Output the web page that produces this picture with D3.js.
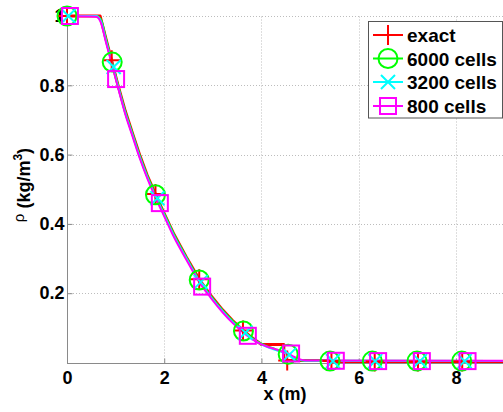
<!DOCTYPE html>
<html>
<head>
<meta charset="utf-8">
<script src="https://cdn.jsdelivr.net/npm/d3@7"></script>
<style>
  body { margin: 0; background: #fff; }
  svg { display: block; font-family: "Liberation Sans", Arial, sans-serif; }
</style>
</head>
<body>
<svg id="chart" width="503" height="412"></svg>
<script>
// exact solution (rarefaction, plateau, contact)
const exactX = [0, 0.68, 0.8, 0.93, 1.05, 1.2, 1.35, 1.5, 1.65, 1.82, 2.0, 2.2, 2.45, 2.72, 2.95, 3.2, 3.4, 3.63, 3.8, 4.0, 4.46, 4.46, 5.4, 5.4, 9]
const exactY = [1, 1, 0.935, 0.865, 0.8, 0.725, 0.66, 0.597, 0.54, 0.485, 0.43, 0.37, 0.305, 0.24, 0.195, 0.152, 0.122, 0.092, 0.072, 0.052, 0.052, 0.006, 0.006, 0.003, 0.003]

// numerical solutions
const numX = [0, 0.6, 0.7, 0.8, 0.93, 1.05, 1.2, 1.35, 1.5, 1.65, 1.82, 2.0, 2.2, 2.45, 2.72, 2.95, 3.2, 3.4, 3.63, 3.8, 3.95, 4.1, 4.3, 4.45, 4.55, 4.65, 4.75, 4.9, 9]
const cells6000Y = [1, 1, 0.99, 0.935, 0.866, 0.8, 0.724, 0.66, 0.596, 0.54, 0.484, 0.43, 0.37, 0.305, 0.238, 0.194, 0.151, 0.121, 0.091, 0.072, 0.058, 0.048, 0.038, 0.03, 0.024, 0.014, 0.008, 0.005, 0.004]
const cells3200Y = [1, 1, 0.985, 0.93, 0.862, 0.797, 0.72, 0.656, 0.592, 0.536, 0.48, 0.426, 0.366, 0.302, 0.236, 0.191, 0.148, 0.118, 0.088, 0.069, 0.056, 0.046, 0.036, 0.029, 0.023, 0.015, 0.009, 0.005, 0.004]
const cells800Y = [1, 0.998, 0.98, 0.925, 0.858, 0.793, 0.716, 0.652, 0.588, 0.532, 0.476, 0.422, 0.362, 0.298, 0.232, 0.188, 0.145, 0.115, 0.086, 0.068, 0.056, 0.047, 0.038, 0.031, 0.026, 0.018, 0.011, 0.006, 0.005]

// marker positions
const exactMX = [0, 0.92, 1.82, 2.72, 3.62, 4.53, 5.44, 6.33, 7.22, 8.13]
const exactMY = [1, 0.872, 0.486, 0.24, 0.092, 0.006, 0.004, 0.003, 0.003, 0.003]
const m6000X = [0, 0.93, 1.82, 2.72, 3.63, 4.55, 5.41, 6.28, 7.2, 8.12]
const m6000Y = [1, 0.867, 0.484, 0.238, 0.091, 0.024, 0.004, 0.004, 0.004, 0.004]
const m3200X = [0.03, 0.96, 1.86, 2.75, 3.67, 4.57, 5.47, 6.34, 7.26, 8.18]
const m3200Y = [1, 0.853, 0.474, 0.232, 0.086, 0.022, 0.004, 0.004, 0.004, 0.004]
const m800X = [0.06, 1.01, 1.91, 2.78, 3.72, 4.61, 5.53, 6.4, 7.3, 8.24]
const m800Y = [1, 0.818, 0.46, 0.219, 0.077, 0.026, 0.005, 0.004, 0.004, 0.004]

const xTicks = [0, 2, 4, 6, 8]
const yTicks = [0.2, 0.4, 0.6, 0.8, 1]
const labels = ["exact", "6000 cells", "3200 cells", "800 cells"]

const width = 503, height = 412
const margin = { top: 16, right: -1.5, bottom: 49.5, left: 67 }

const x = d3.scaleLinear().domain([0, 9]).range([margin.left, width - margin.right])
const y = d3.scaleLinear().domain([0, 1]).range([height - margin.bottom, margin.top])

const svg = d3.select("#chart")

// grid
svg.append("g")
    .selectAll("line.gx")
    .data(xTicks.filter(d => d > 0))
    .join("line")
    .attr("x1", d => Math.round(x(d)) + 0.5).attr("x2", d => Math.round(x(d)) + 0.5)
    .attr("y1", y(0)).attr("y2", y(1))
    .attr("stroke", "#bdbdbd").attr("stroke-dasharray", "1,2")
svg.append("g")
    .selectAll("line.gy")
    .data(yTicks)
    .join("line")
    .attr("x1", x(0)).attr("x2", width)
    .attr("y1", d => Math.round(y(d)) + 0.5).attr("y2", d => Math.round(y(d)) + 0.5)
    .attr("stroke", "#bdbdbd").attr("stroke-dasharray", "1,2")

// axes
let xAxis = g => g
    .attr("transform", `translate(0,${Math.round(y(0)) + 0.5})`)
    .call(d3.axisBottom(x).tickValues(xTicks).tickSize(-5).tickPadding(8).tickFormat(d3.format("d")))
    .call(g => g.select(".domain").attr("stroke", "#8a8a8a").attr("d", `M${x(0)},0H${width}`))
    .call(g => g.selectAll(".tick line").attr("stroke", "#8a8a8a"))
    .call(g => g.selectAll("text").attr("fill", "#000").attr("font-size", 18).attr("font-weight", "bold")
        .attr("font-family", "Liberation Sans, Arial, sans-serif"))

let yAxis = g => g
    .attr("transform", `translate(${Math.round(x(0)) + 0.5},0)`)
    .call(d3.axisLeft(y).tickValues(yTicks).tickSize(-5).tickPadding(3).tickFormat(d => d === 1 ? "1" : d3.format(".1f")(d)))
    .call(g => g.select(".domain").attr("stroke", "#8a8a8a").attr("d", `M0,${y(1)}V${y(0)}`))
    .call(g => g.selectAll(".tick line").attr("stroke", "#8a8a8a"))
    .call(g => g.selectAll("text").attr("fill", "#000").attr("font-size", 18).attr("font-weight", "bold")
        .attr("font-family", "Liberation Sans, Arial, sans-serif"))

svg.append("g").call(xAxis)
svg.append("g").call(yAxis)

// axis titles
svg.append("text")
    .attr("x", (x(0) + width) / 2).attr("y", 400)
    .attr("text-anchor", "middle")
    .attr("font-size", 18).attr("font-weight", "bold")
    .text("x (m)")

const yl = svg.append("text")
    .attr("transform", `translate(29.5,185) rotate(-90)`)
    .attr("text-anchor", "middle")
    .attr("font-size", 18).attr("font-weight", "bold")
yl.append("tspan").attr("font-weight", "normal").attr("font-size", 15).attr("dy", -6).text("ρ")
yl.append("tspan").attr("dy", 6).text(" (kg/m")
yl.append("tspan").attr("font-size", 12).attr("dy", -8).text("3")
yl.append("tspan").attr("dy", 8).text(")")

// series
const series = [
    { xs: exactX, ys: exactY, mx: exactMX, my: exactMY, color: "#ff0000", w: 3, marker: "plus", curve: d3.curveLinear },
    { xs: numX, ys: cells6000Y, mx: m6000X, my: m6000Y, color: "#00ff00", w: 2, marker: "circle", curve: d3.curveMonotoneX },
    { xs: numX, ys: cells3200Y, mx: m3200X, my: m3200Y, color: "#00ffff", w: 2, marker: "cross", curve: d3.curveMonotoneX },
    { xs: numX, ys: cells800Y, mx: m800X, my: m800Y, color: "#ff00ff", w: 2, marker: "square", curve: d3.curveMonotoneX }
]

function drawMarker(g, kind, cx, cy, color) {
    if (kind === "plus") {
        g.append("path").attr("d", `M${cx - 9},${cy}H${cx + 9}M${cx},${cy - 10}V${cy + 10}`)
            .attr("stroke", color).attr("stroke-width", 2).attr("fill", "none")
    } else if (kind === "circle") {
        g.append("circle").attr("cx", cx).attr("cy", cy).attr("r", 9.5)
            .attr("stroke", color).attr("stroke-width", 2).attr("fill", "none")
    } else if (kind === "cross") {
        const s = 7
        g.append("path").attr("d", `M${cx - s},${cy - s}L${cx + s},${cy + s}M${cx - s},${cy + s}L${cx + s},${cy - s}`)
            .attr("stroke", color).attr("stroke-width", 2).attr("fill", "none")
    } else {
        g.append("rect").attr("x", cx - 8).attr("y", cy - 8).attr("width", 16).attr("height", 16)
            .attr("stroke", color).attr("stroke-width", 2).attr("fill", "none")
    }
}

series.forEach(s => {
    const line = d3.line().curve(s.curve).x((d, i) => x(s.xs[i])).y(d => y(d))
    svg.append("path")
        .datum(s.ys)
        .attr("fill", "none")
        .attr("stroke", s.color)
        .attr("stroke-width", s.w)
        .attr("stroke-linejoin", "round")
        .attr("d", line)
})
series.forEach(s => {
    const g = svg.append("g")
    s.mx.forEach((v, i) => drawMarker(g, s.marker, x(v), y(s.my[i]), s.color))
})

// legend
const lg = svg.append("g")
lg.append("rect")
    .attr("x", 368.5).attr("y", 21.5).attr("width", 134).attr("height", 96.5)
    .attr("fill", "#fff").attr("stroke", "#555").attr("stroke-width", 1)
const rowY = [35, 58.5, 82, 106]
series.forEach((s, i) => {
    lg.append("line").attr("x1", 373).attr("x2", 403).attr("y1", rowY[i]).attr("y2", rowY[i])
        .attr("stroke", s.color).attr("stroke-width", 2)
    drawMarker(lg, s.marker, 388, rowY[i], s.color)
    lg.append("text").attr("x", 407).attr("y", rowY[i] + 7)
        .attr("font-size", 19).attr("font-weight", "bold")
        .text(labels[i])
})
</script>
</body>
</html>
